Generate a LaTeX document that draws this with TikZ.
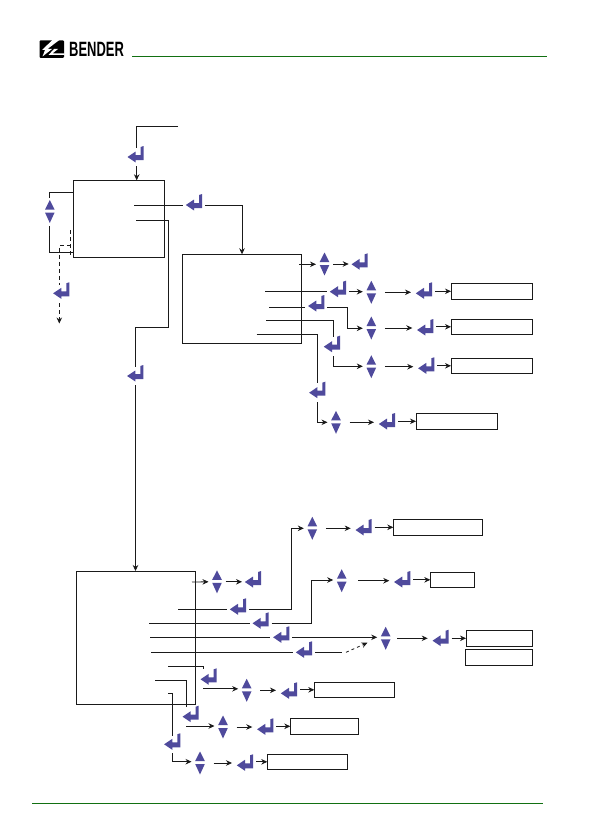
\documentclass[tikz,border=0pt]{standalone}
\usepackage{fontspec}
\setmainfont{Liberation Sans}
\usetikzlibrary{arrows.meta}
\definecolor{iconblue}{HTML}{4F4A9C}
\definecolor{rulegreen}{HTML}{127012}
\definecolor{linec}{HTML}{1A1A1A}
\tikzset{
  conn/.style={draw=linec,line width=0.8pt},
  arr/.style={conn,-{Stealth[length=6pt,width=5.5pt]}},
  udarr/.style={arr,shorten <=5pt,shorten >=2pt},
  dashline/.style={conn,dash pattern=on 4pt off 3pt},
  dasharr/.style={dashline,-{Stealth[length=6pt,width=5.5pt]}},
  boxn/.style={draw=linec,line width=0.9pt,rectangle,inner sep=0,outer sep=0,anchor=north west},
  enternode/.style={rectangle,inner sep=0,minimum width=16pt,minimum height=20pt,outer sep=3pt},
  udnode/.style={rectangle,inner sep=0,minimum width=11pt,minimum height=24pt,outer sep=3pt},
  rulen/.style={line width=0.9pt,rulegreen}
}
% enter icon: name, tip x, axis y
\newcommand{\En}[3]{%
  \pgfmathsetmacro{\cx}{#2+8}%
  \node[enternode] (#1) at (\cx,#3) {};
  \fill[iconblue,shift={(\cx,#3)}] (-8.2,0)--(0,-5.5)--(0,-2)--(5,-2)--(5,-10)--(8,-11)--(8,3)--(0,3)--(0,5.5)--cycle;
}
% up/down icon: name, centre x, centre y
\newcommand{\Ud}[3]{%
  \node[udnode] (#1) at (#2,#3) {};
  \fill[iconblue,shift={(#2,#3)}] (-4.8,-2)--(0,-11.5)--(4.8,-2)--cycle (-4.8,1)--(4.8,1)--(0,11.5)--cycle;
}
\newcommand{\Bx}[5]{% name x1 y1 x2 y2
  \pgfmathsetmacro{\bw}{#4-#2}\pgfmathsetmacro{\bh}{#5-#3}%
  \node[boxn,minimum width=\bw pt,minimum height=\bh pt] (#1) at (#2,#3) {};
}
\begin{document}
\begin{tikzpicture}[x=1pt,y=-1pt]
\useasboundingbox (0,0) rectangle (594,840);
\fill[white] (0,0) rectangle (594,840);
% header
\coordinate (hl) at (132,56.3); \coordinate (hr) at (547,56.3);
\coordinate (fl) at (32,803.3); \coordinate (fr) at (542.7,803.3);
\draw[rulen] (hl)--(hr);
\draw[rulen] (fl)--(fr);
\fill[black,rounded corners=1pt] (39.5,40.3) rectangle (64,58);
\fill[white] (53,39.5)--(60,39.5)--(47.5,49)--(52,49)--(42.5,56.5)--(45,50)--(42,50)--cycle;
\fill[white] (54,49)--(58,49)--(52.5,53.5)--(64.5,53.5)--(64.5,55)--(48.5,55)--cycle;
\node[inner sep=0,anchor=west,font=\bfseries\fontsize{18}{18}\selectfont,xscale=0.72,yscale=1.15] (logo) at (69,49.7) {BENDER};
% boxes
\Bx{b1}{73.3}{180.3}{164.3}{257.3}
\Bx{b2}{182.3}{254.3}{301.7}{343.3}
\Bx{b3}{76.5}{571.3}{195.3}{704.3}
\Bx{r1}{451}{283.3}{532.7}{299.3}
\Bx{r2}{451}{319.3}{532.7}{334.3}
\Bx{r3}{451}{358.3}{532.7}{373.3}
\Bx{r4}{416}{413.3}{497.7}{429.3}
\Bx{s1}{393.3}{519.3}{482.3}{535.3}
\Bx{s2}{430.3}{572.3}{474.3}{587.3}
\Bx{s3}{466}{630.3}{532.3}{646.3}
\Bx{s4}{465.3}{649.3}{532.3}{665.3}
\Bx{s5}{314.3}{682.3}{394.7}{697.3}
\Bx{s6}{290.3}{718.3}{358}{734.3}
\Bx{s7}{267.3}{754.3}{347}{769.3}
% icons
\En{e0}{127.7}{157}
\Ud{u1}{49.8}{211.5}
\En{e1}{53.3}{293.3}
\En{e2}{186}{205}
\En{e3}{127.3}{376}
% box2 rows
\Ud{a1}{324.5}{264}
\En{a2}{351.7}{264.3}
\En{c1}{330}{291.7}
\Ud{c2}{371.3}{292.3}
\En{c3}{416}{293.3}
\En{d1}{308.3}{306}
\Ud{d2}{371.3}{328}
\En{d3}{417.3}{330}
\En{f1}{324}{346.7}
\Ud{f2}{371.3}{366.7}
\En{f3}{418.3}{368.3}
\En{g1}{309.3}{392.7}
\Ud{g2}{336}{422.3}
\En{g3}{379}{424}
% box3 rows
\Ud{h1}{217}{581.8}
\En{h2}{245}{582}
\En{i1}{230}{609.3}
\Ud{i2}{312.3}{528.3}
\En{i3}{355.7}{530}
\En{j1}{252.7}{623.3}
\Ud{j2}{341.7}{580.7}
\En{j3}{394.3}{582}
\En{k1}{273.3}{637.3}
\Ud{k2}{385.7}{638.3}
\En{k3}{432.7}{640.7}
\En{l1}{296}{652.3}
\En{m1}{200.7}{679.3}
\Ud{m2}{246.7}{690.3}
\En{m3}{281}{693.3}
\En{n1}{182.7}{716.7}
\Ud{n2}{223}{727}
\En{n3}{257.3}{729.3}
\En{o1}{164.3}{744.3}
\Ud{o2}{200}{763}
\En{o3}{237}{765.3}
% free ends
\coordinate (t0) at (178,126.8);
\coordinate (t1) at (136.7,126.8);
\coordinate (t2) at (136.7,148);
\coordinate (t3) at (136.7,166);
\coordinate (v1) at (70.7,230);
\coordinate (v2) at (70.7,257);
\coordinate (v3) at (70.7,245.3);
\coordinate (v4) at (59.3,285);
\coordinate (v5) at (59.3,303);
\coordinate (v6) at (59.3,323.5);
\coordinate (w1) at (134,205.3);
\coordinate (w2) at (136,220.3);
\coordinate (c0) at (265,291.3);
\coordinate (d0) at (269,307.3);
\coordinate (f0) at (266,320.3);
\coordinate (g0) at (256.7,334.3);
\coordinate (ab) at (299,264.3);
\coordinate (h0) at (192,582);
\coordinate (i0) at (178,609.3);
\coordinate (j0) at (149,623.3);
\coordinate (k0) at (150,637.3);
\coordinate (l0) at (151,652.3);
\coordinate (m0) at (168.3,666);
\coordinate (n0) at (155,680.3);
\coordinate (o0) at (168.3,693.3);
% connectors top
\draw[conn] (t0)--(t1)--(t2);
\draw[arr] (t3)--(t3|-b1.north);
\draw[conn] (73.3,192.3)--(49.5,192.3)--(49.5,198);
\draw[conn] (49.5,226)--(49.5,252.3)--(73.3,252.3);
\draw[dashline] (v1)--(v2);
\draw[dashline] (v3)--(v3-|v4)--(v4);
\draw[dasharr] (v5)--(v6);
\draw[conn] (w1)--(w1-|e2.west);
\draw[arr] (w1-|e2.east)--(w1-|b2.north)--(b2.north);
\draw[conn] (w2)--(168.3,220.3)--(168.3,327.3)--(135.5,327.3)--(135.5,367);
\draw[arr] (135.5,385)--(135.5,571);
% box 2 rows
\draw[arr] (ab)--(ab-|a1.west);
\draw[arr] (a1.east)--(a1.east-|a2.west);
\draw[conn] (c0)--(c0-|c1.west);
\draw[arr] (c1.east)--(c1.east-|c2.west);
\draw[udarr] (c2.east)--(c2.east-|c3.west);
\draw[arr] (c3.east|-r1.west)--(r1.west);
\draw[conn] (d0)--(d0-|d1.west);
\draw[arr] (d0-|d1.east)--(347.7,307.3)--(347.7,328.3)--(d2.west|-347.7,328.3);
\draw[udarr] (d2.east)--(d2.east-|d3.west);
\draw[arr] (d3.east|-r2.west)--(r2.west);
\draw[conn] (f0)--(333.3,320.3)--(333.3,337.3);
\draw[arr] (333.3,356)--(333.3,366.3)--(f2.west|-333.3,366.3);
\draw[udarr] (f2.east)--(f2.east-|f3.west);
\draw[arr] (f3.east|-r3.west)--(r3.west);
\draw[conn] (g0)--(317.7,334.3)--(317.7,383.3);
\draw[arr] (317.7,402.3)--(317.7,422.3)--(g2.west);
\draw[udarr] (g2.east)--(g2.east-|g3.west);
\draw[arr] (g3.east|-r4.west)--(r4.west);
% box 3 rows
\draw[arr] (h0)--(h1.west);
\draw[arr] (h1.east)--(h1.east-|h2.west);
\draw[conn] (i0)--(i0-|i1.west);
\draw[arr] (i1.east)--(291.7,609.3)--(291.7,528.3)--(i2.west);
\draw[udarr] (i2.east)--(i2.east-|i3.west);
\draw[arr] (i3.east|-s1.west)--(s1.west);
\draw[conn] (j0)--(j0-|j1.west);
\draw[arr] (j1.east)--(311.7,623.3)--(311.7,580)--(j2.west|-311.7,580);
\draw[udarr,shorten <=8pt] (j2.east)--(j2.east-|j3.west);
\draw[arr] (j3.east|-s2.west)--(s2.west);
\draw[conn] (k0)--(k0-|k1.west);
\draw[arr] (k1.east)--(k1.east-|k2.west);
\draw[udarr,shorten <=3pt] (k2.east)--(k2.east-|k3.west);
\draw[arr] (k3.east|-s3.west)--(s3.west);
\draw[conn] (l0)--(l0-|l1.west);
\draw[conn] (l1.east)--(342,652.3);
\draw[dasharr,dash pattern=on 3pt off 3pt] (346,652.3)--(367.5,642.7);
\draw[conn] (m0)--(203.3,666)--(203.3,669.3);
\draw[arr] (203.3,688.8)--(m2.west|-203.3,688.8);
\draw[udarr] (m2.east)--(m2.east-|m3.west);
\draw[arr] (m3.east|-s5.west)--(s5.west);
\draw[conn] (n0)--(186.7,680.3)--(186.7,707.3);
\draw[arr] (186,726)--(n2.west|-186,726);
\draw[udarr] (n2.east)--(n2.east-|n3.west);
\draw[arr] (n3.east|-s6.west)--(s6.west);
\draw[conn] (o0)--(172.3,693.3)--(172.3,736);
\draw[arr] (172.3,753.3)--(172.3,761.7)--(o2.west|-172.3,761.7);
\draw[udarr] (o2.east)--(o2.east-|o3.west);
\draw[arr] (o3.east|-s7.west)--(s7.west);
\end{tikzpicture}
\end{document}
